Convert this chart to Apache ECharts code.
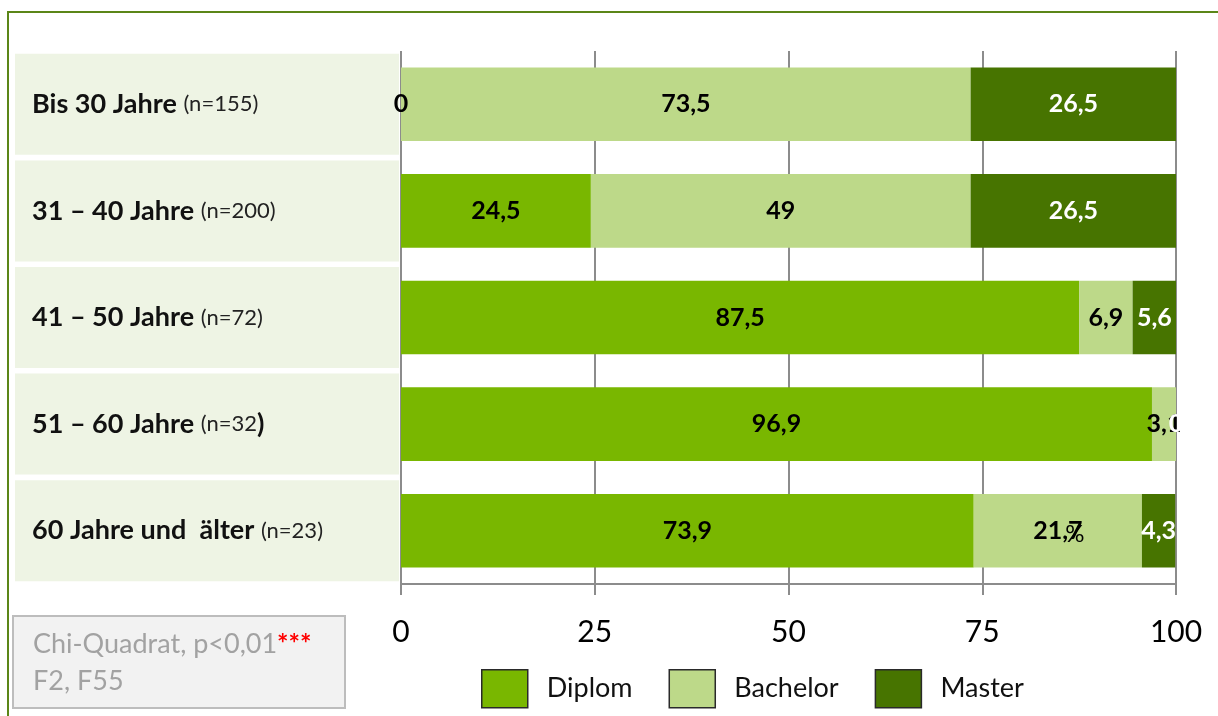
<!DOCTYPE html>
<html lang="de">
<head>
<meta charset="utf-8">
<title>Studienabschluss nach Altersgruppe</title>
<script src="https://cdn.jsdelivr.net/npm/echarts@6/dist/echarts.min.js"></script>
<style>
  html, body { margin: 0; padding: 0; background: #ffffff; }
  #frame {
    position: absolute; left: 7px; top: 11px; width: 1300px; height: 800px;
    border-top: 2px solid #5B8618; border-left: 2px solid #5B8618;
  }
  #chart { position: absolute; left: 0; top: 0; width: 1218px; height: 716px; }
</style>
</head>
<body>
<div id="frame"></div>
<div id="chart"></div>
<script>
// Altersgruppen (Kategorien) und Stichprobengrößen
const ageGroups = ['Bis 30 Jahre', '31 – 40 Jahre', '41 – 50 Jahre', '51 – 60 Jahre', '60 Jahre und  älter'];
const sampleSizes = ['155', '200', '72', '32', '23'];

// Anteile in Prozent je Abschlussart
const diplom   = [0, 24.5, 87.5, 96.9, 73.9];
const bachelor = [73.5, 49, 6.9, 3.1, 21.7];
const master   = [26.5, 26.5, 5.6, 0, 4.3];

const seriesNames = ['Diplom', 'Bachelor', 'Master'];
const tickValues = [0, 25, 50, 75, 100];

const colors = { Diplom: '#79B700', Bachelor: '#BDD989', Master: '#477400' };
const labelColors = { Diplom: '#000000', Bachelor: '#000000', Master: '#ffffff' };
const FONT = 'Lato, "Open Sans", sans-serif';
const GRID_LINE = '#8C8C8C';

const fmt = v => String(v).replace('.', ',');

function categoryLabel(value, idx) {
  const n = sampleSizes[idx];
  // the closing bracket of the 51 – 60 group is set in bold
  if (idx === 3) return '{a|' + value + ' }{b|(n=' + n + '}{a|)}';
  return '{a|' + value + ' }{b|(n=' + n + ')}';
}

function makeSeries(name, data) {
  return {
    name: name,
    type: 'bar',
    stack: 'total',
    barCategoryGap: '31%',
    data: data,
    itemStyle: { color: colors[name] },
    emphasis: { disabled: true },
    label: {
      show: true,
      position: 'inside',
      formatter: p => fmt(p.value),
      color: labelColors[name],
      fontFamily: FONT,
      fontWeight: 'bold',
      fontSize: 25
    }
  };
}

const chart = echarts.init(document.getElementById('chart'), null, { renderer: 'canvas' });

chart.setOption({
  animation: false,
  backgroundColor: 'transparent',
  textStyle: { fontFamily: FONT },
  grid: { left: 401, right: 42, top: 51, bottom: 132, containLabel: false },
  xAxis: {
    type: 'value',
    min: tickValues[0],
    max: tickValues[tickValues.length - 1],
    interval: tickValues[1] - tickValues[0],
    axisLine: { show: true, lineStyle: { color: GRID_LINE, width: 2 } },
    axisTick: { show: true, length: 11, lineStyle: { color: GRID_LINE, width: 2 } },
    splitLine: { show: true, lineStyle: { color: GRID_LINE, width: 2 } },
    axisLabel: {
      margin: 33,
      color: '#000000',
      fontFamily: FONT,
      fontSize: 30,
      formatter: v => fmt(v)
    }
  },
  yAxis: {
    type: 'category',
    inverse: true,
    data: ageGroups,
    axisLine: { show: false },
    axisTick: { show: false },
    splitLine: { show: false },
    axisLabel: {
      margin: 2,
      width: 367,
      padding: [0, 0, 0, 17],
      backgroundColor: '#EEF4E4',
      formatter: categoryLabel,
      rich: {
        a: { fontFamily: FONT, fontWeight: 'bold', fontSize: 27, color: '#111111', align: 'left', lineHeight: 101 },
        b: { fontFamily: FONT, fontSize: 22, color: '#222222', align: 'left', lineHeight: 101 }
      }
    }
  },
  legend: {
    data: seriesNames,
    left: 476,
    top: 664,
    icon: 'rect',
    itemWidth: 46,
    itemHeight: 38,
    itemGap: 36,
    selectedMode: false,
    itemStyle: { borderColor: '#2a2a2a', borderWidth: 1.5 },
    textStyle: { fontFamily: FONT, fontSize: 27, color: '#111111', padding: [0, 0, 0, 14] }
  },
  graphic: [
    {
      id: 'note',
      type: 'group',
      left: 12,
      top: 615,
      children: [
        {
          type: 'rect',
          shape: { x: 0, y: 0, width: 332, height: 92 },
          style: { fill: '#F2F2F2', stroke: '#BDBDBD', lineWidth: 2 }
        },
        {
          type: 'text',
          x: 20,
          y: 10,
          style: {
            text: '{g|Chi-Quadrat, p<0,01}{r|***}\n{g|F2, F55}',
            rich: {
              g: { fontFamily: FONT, fontSize: 27, fill: '#A2A2A2', lineHeight: 37 },
              r: { fontFamily: FONT, fontSize: 27, fontWeight: 'bold', fill: '#FF0000', lineHeight: 37 }
            }
          }
        }
      ]
    }
  ],
  series: [
    makeSeries('Diplom', diplom),
    makeSeries('Bachelor', bachelor),
    makeSeries('Master', master)
  ]
});

// stray percent sign sitting on the Bachelor label of the oldest group
const lastIdx = ageGroups.length - 1;
const bachelorMid = diplom[lastIdx] + bachelor[lastIdx] / 2;
const pct = chart.convertToPixel({ xAxisIndex: 0, yAxisIndex: 0 }, [bachelorMid, ageGroups[lastIdx]]);
chart.setOption({
  graphic: [
    {
      id: 'pct',
      type: 'text',
      x: pct[0] + 17,
      y: pct[1] + 4,
      style: {
        text: '%',
        fontFamily: FONT,
        fontSize: 24,
        fill: '#000000',
        align: 'center',
        verticalAlign: 'middle'
      },
      z: 100
    }
  ]
});
</script>
</body>
</html>
